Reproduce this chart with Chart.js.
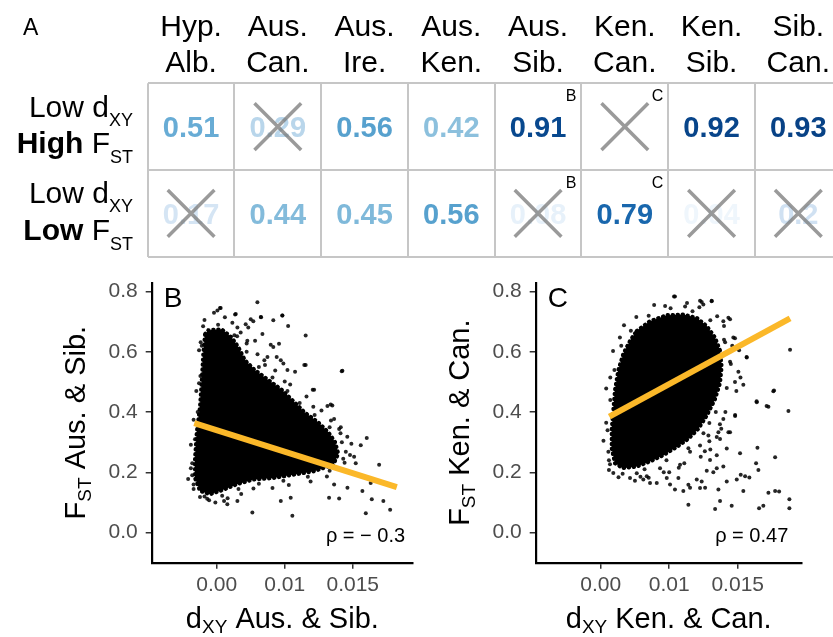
<!DOCTYPE html>
<html>
<head>
<meta charset="utf-8">
<script src="https://cdn.jsdelivr.net/npm/chart.js@4.4.1/dist/chart.umd.min.js"></script>
<style>
  body { margin: 0; background: #fff; }
  #wrap { position: relative; width: 833px; height: 637px; overflow: hidden; }
  canvas { position: absolute; }
</style>
</head>
<body>
<div id="wrap">
  <canvas id="gridChart" width="833" height="262" style="left:0;top:0"></canvas>
  <canvas id="ausSibChart" width="416" height="375" style="left:0;top:262px"></canvas>
  <canvas id="kenCanChart" width="417" height="375" style="left:416px;top:262px"></canvas>
</div>
<script>
// Panel A: share of windows per population pair
const pairNames = [['Hyp.', 'Alb.'], ['Aus.', 'Can.'], ['Aus.', 'Ire.'], ['Aus.', 'Ken.'],
                   ['Aus.', 'Sib.'], ['Ken.', 'Can.'], ['Ken.', 'Sib.'], ['Sib.', 'Can.']];
const highFstValues = [0.51, 0.29, 0.56, 0.42, 0.91, null, 0.92, 0.93];
const lowFstValues = [0.17, 0.44, 0.45, 0.56, 0.08, 0.79, 0.04, 0.2];
const highFstCrossed = [false, true, false, false, false, true, false, false];
const lowFstCrossed = [true, false, false, false, true, false, true, true];
const highFstPanel = ['', '', '', '', 'B', 'C', '', ''];
const lowFstPanel = ['', '', '', '', 'B', 'C', '', ''];

// Panels B and C: axis ticks
const fstTicks = [0, 0.2, 0.4, 0.6, 0.8];
const fstTickLabels = ['0.0', '0.2', '0.4', '0.6', '0.8'];
const dxyTicks = [0.005, 0.01, 0.015];
const dxyTickLabels = ['0.00', '0.01', '0.015'];

// Aus. & Sib.: dense core outline, scattered windows, fitted line
const ausSibCore = [[0.00414,0.659],[0.00438,0.672],[0.00537,0.675],[0.0061,0.648],[0.00659,0.616],[0.00708,0.572],
  [0.00782,0.539],[0.00879,0.507],[0.00978,0.474],[0.01076,0.431],[0.01149,0.398],[0.01247,0.366],[0.01321,0.333],
  [0.0137,0.301],[0.01394,0.262],[0.01357,0.225],[0.0121,0.203],[0.01063,0.192],[0.00916,0.181],[0.00769,0.176],
  [0.00647,0.16],[0.00524,0.138],[0.00451,0.127],[0.00377,0.138],[0.0034,0.181],[0.0034,0.246],[0.00353,0.333],
  [0.00377,0.42],[0.0039,0.507],[0.00401,0.594],[0.00414,0.659]];
const ausSibDots = [[0.004,0.685],[0.0051,0.69],[0.0063,0.655],[0.0072,0.6],[0.0081,0.55],[0.0091,0.515],[0.0102,0.47],
  [0.0111,0.43],[0.0122,0.39],[0.0133,0.35],[0.0142,0.3],[0.0143,0.245],[0.0133,0.205],[0.0117,0.185],[0.0099,0.172],
  [0.0081,0.162],[0.0066,0.145],[0.0054,0.122],[0.0041,0.12],[0.0033,0.16],[0.0032,0.23],[0.0034,0.31],[0.0036,0.4],
  [0.0038,0.52],[0.0039,0.62],[0.0032,0.19],
  [0.0065,0.652],[0.0072,0.628],[0.008,0.592],[0.0085,0.572],[0.0093,0.538],[0.01,0.502],[0.0104,0.492],[0.0116,0.452],
  [0.0121,0.418],[0.0127,0.405],[0.0134,0.372],[0.0141,0.33],[0.0146,0.318],[0.0148,0.258],[0.0144,0.232],
  [0.0131,0.186],[0.0119,0.17],[0.0103,0.158],[0.0091,0.148],[0.0077,0.146],[0.0068,0.128],[0.0058,0.114],
  [0.0049,0.1],[0.0043,0.112],[0.0033,0.145],[0.0029,0.178],[0.0031,0.214],[0.0031,0.292],[0.0033,0.375],
  [0.0035,0.47],[0.0037,0.605],[0.0041,0.706],[0.0056,0.715],
  [0.00529,0.746],[0.0048,0.73],[0.00505,0.737],[0.0064,0.726],[0.00799,0.765],[0.00824,0.716],[0.00983,0.721],
  [0.01025,0.686],[0.0075,0.708],[0.00713,0.692],[0.00836,0.659],[0.00958,0.627],[0.00897,0.624],[0.01154,0.654],
  [0.01154,0.556],[0.0102,0.54],[0.01424,0.537],[0.01216,0.474],[0.00873,0.583],[0.00971,0.572],[0.00725,0.637],
  [0.00676,0.664],[0.00615,0.697],[0.00652,0.681],[0.00382,0.632],[0.0037,0.496],[0.01314,0.42],[0.0135,0.422],
  [0.014,0.344],[0.01412,0.35],[0.01363,0.377],[0.01449,0.268],[0.0149,0.295],[0.0151,0.252],[0.01603,0.314],
  [0.01559,0.29],[0.01522,0.23],[0.01694,0.225],[0.01632,0.165],[0.01571,0.138],[0.0164,0.111],[0.01725,0.105],
  [0.01775,0.076],[0.01596,0.064],[0.01363,0.16],[0.014,0.113],[0.01326,0.116],[0.01461,0.149],[0.01056,0.056],
  [0.00762,0.067],[0.00971,0.105],[0.01044,0.116],[0.00377,0.118],[0.00444,0.107],[0.00554,0.105],[0.00578,0.094],
  [0.00652,0.105],[0.00826,0.715],[0.00916,0.705],[0.00982,0.721],[0.01419,0.536],[0.01144,0.556],[0.01206,0.474],
  [0.01338,0.425],[0.00916,0.616],[0.00941,0.583],[0.00855,0.556],[0.0099,0.561],[0.01076,0.534],[0.00769,0.702],
  [0.00732,0.681],[0.00782,0.637],[0.00635,0.724],[0.00524,0.746]];
const ausSibFit = [[0.00335, 0.3635], [0.01824, 0.151]];

// Ken. & Can.
const kenCanCore = [[0.00763,0.67],[0.0086,0.702],[0.00982,0.722],[0.01103,0.724],[0.01201,0.713],[0.01274,0.686],
  [0.01334,0.648],[0.01371,0.605],[0.01383,0.55],[0.01371,0.496],[0.01334,0.442],[0.01274,0.388],[0.01212,0.344],
  [0.01139,0.311],[0.01055,0.284],[0.00957,0.257],[0.0086,0.236],[0.00763,0.219],[0.00665,0.214],[0.00604,0.23],
  [0.0058,0.279],[0.0058,0.344],[0.00592,0.409],[0.00604,0.474],[0.00628,0.539],[0.00665,0.594],[0.00714,0.637],
  [0.00763,0.67]];
const kenCanDots = [[0.0072,0.67],[0.0085,0.72],[0.0101,0.745],[0.0117,0.735],[0.013,0.705],[0.014,0.64],[0.0145,0.56],
  [0.0142,0.48],[0.0134,0.4],[0.0125,0.33],[0.0114,0.28],[0.0098,0.24],[0.0082,0.21],[0.0066,0.195],[0.0056,0.24],
  [0.0055,0.34],[0.0057,0.44],[0.006,0.54],[0.0065,0.62],[0.0148,0.5],[0.0137,0.36],[0.0126,0.27],[0.0111,0.23],
  [0.0096,0.2],[0.0079,0.185],[0.0146,0.62],
  [0.0067,0.688],[0.0076,0.716],[0.0089,0.756],[0.0097,0.752],[0.0113,0.762],[0.0122,0.748],[0.0135,0.718],
  [0.014,0.686],[0.0148,0.645],[0.0151,0.605],[0.0152,0.515],[0.0149,0.47],[0.0141,0.4],[0.0138,0.345],[0.013,0.276],
  [0.0123,0.252],[0.0107,0.215],[0.01,0.2],[0.0085,0.182],[0.0075,0.172],[0.0063,0.184],[0.0056,0.208],[0.0052,0.305],
  [0.0054,0.365],[0.0054,0.478],[0.0057,0.515],[0.0059,0.603],[0.0064,0.648],
  [0.01035,0.784],[0.01116,0.751],[0.01225,0.77],[0.0131,0.77],[0.01249,0.757],[0.01395,0.702],[0.01432,0.713],
  [0.01468,0.648],[0.01408,0.632],[0.01444,0.567],[0.01566,0.581],[0.01882,0.607],[0.01541,0.491],[0.01765,0.472],
  [0.01639,0.433],[0.01724,0.418],[0.0187,0.404],[0.01481,0.39],[0.01395,0.377],[0.01293,0.364],[0.01359,0.333],
  [0.01432,0.333],[0.01293,0.303],[0.01347,0.317],[0.01517,0.263],[0.01644,0.282],[0.01634,0.23],[0.01773,0.25],
  [0.01651,0.208],[0.01493,0.176],[0.01522,0.192],[0.01554,0.187],[0.01585,0.183],[0.0142,0.17],[0.01541,0.138],
  [0.01773,0.138],[0.01724,0.132],[0.01802,0.136],[0.01877,0.111],[0.01877,0.081],[0.01687,0.089],[0.01656,0.081],
  [0.01456,0.089],[0.01371,0.105],[0.01335,0.078],[0.0114,0.092],[0.01103,0.138],[0.01152,0.149],[0.01262,0.149],
  [0.01359,0.143],[0.01274,0.205],[0.01347,0.214],[0.01395,0.219],[0.01237,0.17],[0.01201,0.176],[0.01067,0.181],
  [0.01006,0.16],[0.00909,0.165],[0.00811,0.176],[0.00714,0.181],[0.00592,0.198],[0.00568,0.227],[0.00556,0.268],
  [0.00763,0.197],[0.0086,0.165],[0.00982,0.181],[0.01042,0.143],[0.0114,0.159],[0.01225,0.148],[0.01322,0.2],
  [0.01298,0.241],[0.01347,0.257],[0.0142,0.279],[0.01371,0.311],[0.01444,0.333],[0.01286,0.322],[0.01481,0.387],
  [0.01225,0.289],[0.01152,0.268],[0.01079,0.225],[0.00933,0.214],[0.00836,0.187],[0.00641,0.219],[0.01505,0.534],
  [0.01565,0.583],[0.01444,0.708],[0.0131,0.768],[0.01237,0.766],[0.01042,0.784],[0.01711,0.42],[0.0176,0.469],
  [0.01638,0.436]];
const kenCanFit = [[0.00563, 0.385], [0.01882, 0.711]];

const FONT = '"Liberation Sans", Arial, Helvetica, sans-serif';
Chart.defaults.font.family = FONT;
Chart.defaults.animation = false;
Chart.defaults.plugins.legend.display = false;
Chart.defaults.plugins.tooltip.enabled = false;

const bluesStops = ['#f7fbff', '#deebf7', '#c6dbef', '#9ecae1', '#6baed6', '#4292c6', '#2171b5', '#08519c', '#08306b'];

function hexRgb(h) {
  return [1, 3, 5].map(i => parseInt(h.slice(i, i + 2), 16));
}

function bluesColor(v) {
  const t = Math.max(0, Math.min(1, v)) * (bluesStops.length - 1);
  const i = Math.min(Math.floor(t), bluesStops.length - 2);
  const f = t - i;
  const a = hexRgb(bluesStops[i]);
  const b = hexRgb(bluesStops[i + 1]);
  const c = a.map((av, k) => Math.round(av + (b[k] - av) * f));
  return 'rgb(' + c.join(',') + ')';
}

// draws a run of text pieces (for subscripts), aligned as a whole
function drawParts(ctx, parts, x, y, align) {
  let total = 0;
  parts.forEach(p => { ctx.font = p.font; p.w = ctx.measureText(p.t).width; total += p.w; });
  let cx = align === 'center' ? x - total / 2 : align === 'right' ? x - total : x;
  ctx.textAlign = 'left';
  ctx.textBaseline = 'alphabetic';
  parts.forEach(p => {
    ctx.font = p.font;
    ctx.fillStyle = p.color || '#000';
    ctx.fillText(p.t, cx, y + (p.dy || 0));
    cx += p.w;
  });
}

const toXY = pairs => pairs.map(p => ({ x: p[0], y: p[1] }));

// ---------- panel A ----------
const cellRows = [
  { values: highFstValues, crossed: highFstCrossed, panel: highFstPanel, fst: 'High' },
  { values: lowFstValues, crossed: lowFstCrossed, panel: lowFstPanel, fst: 'Low' }
];

const crossPoints = [];
cellRows.forEach((row, r) => row.crossed.forEach((c, i) => {
  if (c) crossPoints.push({ x: i + 0.5, y: r + 0.5 });
}));

const cellTextPlugin = {
  id: 'cellText',
  beforeDatasetsDraw(chart) {
    const { ctx, chartArea, scales: { x, y } } = chart;
    ctx.save();
    ctx.font = '23px ' + FONT;
    ctx.fillStyle = '#000';
    ctx.textAlign = 'left';
    ctx.fillText('A', 23, 35);

    cellRows.forEach((row, r) => {
      const cy = y.getPixelForValue(r + 0.5);
      row.values.forEach((v, i) => {
        const cx = x.getPixelForValue(i + 0.5);
        if (v !== null) {
          ctx.font = 'bold 29px ' + FONT;
          ctx.fillStyle = bluesColor(v);
          ctx.textAlign = 'center';
          ctx.textBaseline = 'alphabetic';
          ctx.fillText(String(v), cx, cy + 10.5);
        }
        if (row.panel[i]) {
          ctx.font = '16px ' + FONT;
          ctx.fillStyle = '#000';
          ctx.textAlign = 'right';
          ctx.fillText(row.panel[i], x.getPixelForValue(i + 1) - 5, y.getPixelForValue(r) + 18);
        }
      });

      const rx = chartArea.left - 14.7;
      drawParts(ctx, [
        { t: 'Low d', font: '30px ' + FONT },
        { t: 'XY', font: '18px ' + FONT, dy: 9 }
      ], rx, cy - 10, 'right');
      drawParts(ctx, [
        { t: row.fst, font: 'bold 30px ' + FONT },
        { t: ' F', font: '30px ' + FONT },
        { t: 'ST', font: '18px ' + FONT, dy: 10 }
      ], rx, cy + 26.7, 'right');
    });
    ctx.restore();
  }
};

const cellGrid = { color: '#c6c6c6', lineWidth: 2, drawTicks: false };

new Chart(document.getElementById('gridChart'), {
  type: 'scatter',
  data: {
    datasets: [{
      data: crossPoints,
      pointStyle: 'crossRot',
      pointRadius: 33,
      pointBorderWidth: 3.5,
      pointBorderColor: 'rgba(120,120,120,0.75)',
      pointBackgroundColor: 'rgba(0,0,0,0)'
    }]
  },
  options: {
    responsive: false,
    layout: { autoPadding: false, padding: { left: 147.7, right: 0, top: 0, bottom: 0 } },
    scales: {
      x: {
        type: 'linear', position: 'bottom', min: 0, max: 7.9,
        afterBuildTicks: s => { s.ticks = pairNames.map((p, i) => ({ value: i })); },
        ticks: { display: false },
        grid: cellGrid,
        border: { display: false },
        afterFit: s => { s.height = 5.3; }
      },
      xTop: {
        type: 'linear', position: 'top', min: 0, max: 7.9,
        afterBuildTicks: s => { s.ticks = pairNames.map((p, i) => ({ value: i + 0.5 })); },
        ticks: {
          callback: (v, i) => pairNames[i],
          autoSkip: false, maxRotation: 0, color: '#000', padding: 2,
          font: { size: 30, lineHeight: 1.19 }
        },
        grid: { display: false, drawTicks: false },
        border: { display: false },
        afterFit: s => { s.height = 83.3; }
      },
      y: {
        type: 'linear', min: 0, max: 2, reverse: true,
        afterBuildTicks: s => { s.ticks = [0, 1, 2].map(v => ({ value: v })); },
        ticks: { display: false },
        grid: cellGrid,
        border: { display: false },
        afterFit: s => { s.width = 0; }
      }
    }
  },
  plugins: [cellTextPlugin]
});

// ---------- panels B and C ----------
const panelTextPlugin = {
  id: 'panelText',
  afterDraw(chart, args, opts) {
    const { ctx, chartArea: a, scales: { x, y } } = chart;
    const titleFont = '29px ' + FONT;
    const subFont = '19px ' + FONT;
    ctx.save();
    drawParts(ctx, [
      { t: 'd', font: titleFont },
      { t: 'XY', font: subFont, dy: 5 },
      { t: ' ' + opts.pair, font: titleFont }
    ], (a.left + a.right) / 2, a.bottom + 65.3, 'center');
    ctx.translate(a.left - 66.7, (a.top + a.bottom) / 2);
    ctx.rotate(-Math.PI / 2);
    drawParts(ctx, [
      { t: 'F', font: titleFont },
      { t: 'ST', font: subFont, dy: 6 },
      { t: ' ' + opts.pair, font: titleFont }
    ], 0, 0, 'center');
    ctx.restore();

    ctx.save();
    ctx.fillStyle = '#000';
    ctx.textBaseline = 'alphabetic';
    ctx.font = '28px ' + FONT;
    ctx.textAlign = 'left';
    ctx.fillText(opts.letter, a.left + 12, a.top + 24.7);
    ctx.font = '20px ' + FONT;
    ctx.textAlign = 'right';
    ctx.fillText(opts.rho, x.getPixelForValue(opts.rhoAt[0]), y.getPixelForValue(opts.rhoAt[1]));
    ctx.restore();
  }
};

function scatterPanel(canvasId, cfg) {
  return new Chart(document.getElementById(canvasId), {
    type: 'scatter',
    data: {
      datasets: [
        { data: toXY(cfg.fit), showLine: true, borderColor: '#fbb829', borderWidth: 6, pointRadius: 0, order: 0 },
        { data: toXY(cfg.dots), pointRadius: 2, pointBackgroundColor: 'rgba(0,0,0,0.85)', pointBorderWidth: 0, order: 1 },
        // solid core, its outline dotted so the edge reads as overlapping points
        { data: toXY(cfg.core), showLine: true, fill: 'shape', backgroundColor: '#000', borderColor: '#000',
          borderWidth: 4, borderDash: [0.5, 4.5], borderCapStyle: 'round', pointRadius: 0, order: 2 }
      ]
    },
    options: {
      responsive: false,
      layout: { autoPadding: false, padding: { left: 0, top: 15, right: cfg.padRight, bottom: 0 } },
      scales: {
        x: {
          type: 'linear', min: cfg.xMin, max: cfg.xMax,
          afterBuildTicks: s => { s.ticks = dxyTicks.map(v => ({ value: v })); },
          ticks: { callback: (v, i) => dxyTickLabels[i], color: '#4d4d4d', font: { size: 21 }, padding: 4,
                   autoSkip: false, maxRotation: 0 },
          grid: { drawOnChartArea: false, tickLength: 6, color: '#333', lineWidth: 1.5 },
          border: { color: '#000', width: 2.2 },
          afterFit: s => { s.height = 74.3; }
        },
        y: {
          type: 'linear', min: -0.1, max: 0.83,
          afterBuildTicks: s => { s.ticks = fstTicks.map(v => ({ value: v })); },
          ticks: { callback: (v, i) => fstTickLabels[i], color: '#4d4d4d', font: { size: 21 }, padding: 8 },
          grid: { drawOnChartArea: false, tickLength: 6, color: '#333', lineWidth: 1.5 },
          border: { color: '#000', width: 2.2 },
          afterFit: s => { s.width = cfg.axisWidth; }
        }
      },
      plugins: { panelText: cfg.text }
    },
    plugins: [panelTextPlugin]
  });
}

scatterPanel('ausSibChart', {
  core: ausSibCore, dots: ausSibDots, fit: ausSibFit,
  xMin: 0.00022, xMax: 0.01943, axisWidth: 151.7, padRight: 3,
  text: { pair: 'Aus. & Sib.', letter: 'B', rho: 'ρ = \u2212 0.3', rhoAt: [0.01885, -0.031] }
});

scatterPanel('kenCanChart', {
  core: kenCanCore, dots: kenCanDots, fit: kenCanFit,
  xMin: 0.000255, xMax: 0.01967, axisWidth: 119.7, padRight: 31.3,
  text: { pair: 'Ken. & Can.', letter: 'C', rho: 'ρ = 0.47', rhoAt: [0.01869, -0.031] }
});
</script>
</body>
</html>
